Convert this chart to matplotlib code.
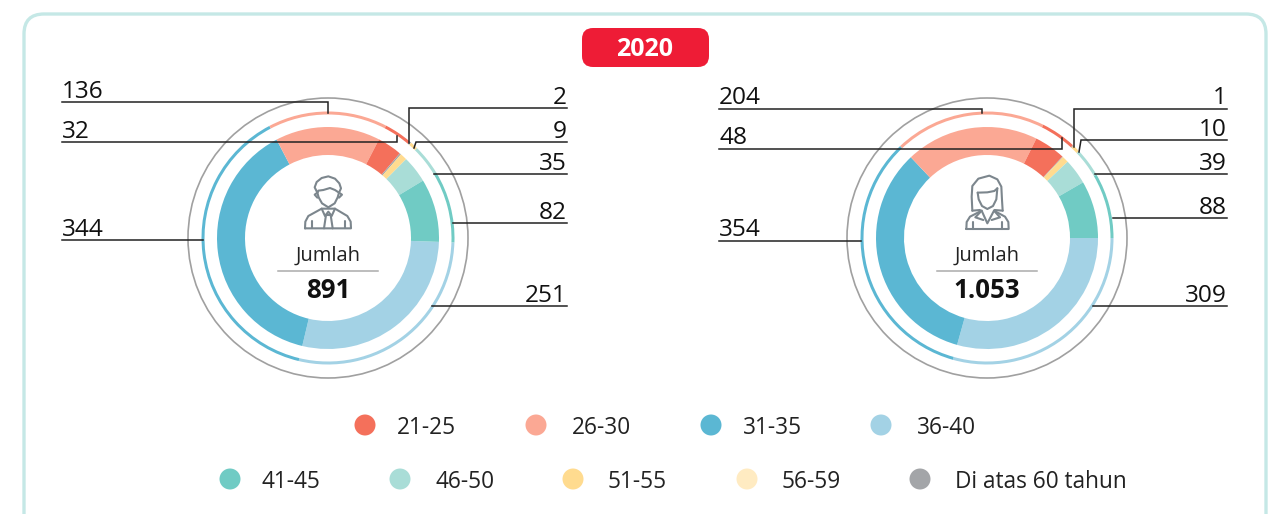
import numpy as np
import matplotlib
matplotlib.use('Agg')
import matplotlib.pyplot as plt
from matplotlib.patches import FancyBboxPatch, Circle

W, H = 1280, 514

# data
pie_labels = ['36-40', '31-35', '26-30', '21-25', 'Di atas 60 tahun', '51-55', '46-50', '41-45']
male = [251, 344, 136, 32, 2, 9, 35, 82]
female = [309, 354, 204, 48, 1, 10, 39, 88]
total_male = '891'
total_female = '1.053'
year = '2020'
row1 = ['21-25', '26-30', '31-35', '36-40']
row2 = ['41-45', '46-50', '51-55', '56-59', 'Di atas 60 tahun']

colors = {'21-25': '#F4705B', '26-30': '#FBA894', '31-35': '#5BB7D3', '36-40': '#A3D2E5',
          '41-45': '#70CBC4', '46-50': '#A9DDD7', '51-55': '#FFDB8F', '56-59': '#FFEBC2',
          'Di atas 60 tahun': '#A3A5A8'}

plt.rcParams['font.family'] = ['Open Sans', 'DejaVu Sans']
fig = plt.figure(figsize=(W / 100, H / 100), dpi=100)
ax = fig.add_axes([0, 0, 1, 1])


def py(y):
    # picture rows to axes y
    return H - y


def draw_donut(cx, values, start):
    c = (cx, py(238))
    cols = [colors[k] for k in pie_labels]
    ax.pie(values, colors=cols, startangle=start, counterclock=False, center=c, radius=111,
           wedgeprops=dict(width=28, linewidth=0), frame=True)
    ax.pie(values, colors=cols, startangle=start, counterclock=False, center=c, radius=126.5,
           wedgeprops=dict(width=3, linewidth=0), frame=True)
    ax.add_patch(Circle(c, 140, fill=False, ec='#A0A0A0', lw=1.2))


def leader(points):
    xs = [p[0] for p in points]
    ys = [py(p[1]) for p in points]
    ax.plot(xs, ys, color='#222222', lw=1.1, solid_joinstyle='miter', zorder=5)


def num(x, y, s, ha):
    ax.text(x, py(y), s, ha=ha, va='baseline', fontsize=17.6, color='#111111', zorder=6)


draw_donut(328, male, -2)
draw_donut(987, female, 0)

# leader lines, left chart
leader([(62, 102), (328, 102), (328, 113)])
leader([(62, 142), (397, 142), (397, 136)])
leader([(567, 108), (409, 108), (409, 143)])
leader([(567, 142), (416, 142), (414, 148)])
leader([(567, 173.5), (434, 173.5)])
leader([(567, 223), (453, 223)])
leader([(567, 306), (432, 306)])
leader([(62, 240), (203, 240)])
num(62, 98, str(male[2]), 'left')
num(62, 138, str(male[3]), 'left')
num(567, 103.5, str(male[4]), 'right')
num(567, 138, str(male[5]), 'right')
num(567, 169.5, str(male[6]), 'right')
num(567, 219, str(male[7]), 'right')
num(567, 302, str(male[0]), 'right')
num(62, 236.5, str(male[1]), 'left')

# leader lines, right chart
leader([(719, 108.5), (982, 108.5), (982, 113)])
leader([(719, 148.5), (1062, 148.5), (1062, 138)])
leader([(1227, 108.5), (1074, 108.5), (1074, 147)])
leader([(1227, 140), (1081, 140), (1079, 152)])
leader([(1227, 174), (1095, 174)])
leader([(1227, 218), (1113, 218)])
leader([(1227, 306), (1093, 306)])
leader([(719, 240.5), (861, 240.5)])
num(719, 103.5, str(female[2]), 'left')
num(719, 143.5, str(female[3]), 'left')
num(1227, 104, str(female[4]), 'right')
num(1227, 136, str(female[5]), 'right')
num(1227, 170, str(female[6]), 'right')
num(1227, 214, str(female[7]), 'right')
num(1227, 302, str(female[0]), 'right')
num(719, 236.5, str(female[1]), 'left')

# centre text
for cx, tot in [(328, total_male), (987, total_female)]:
    ax.text(cx, py(255.5), 'Jumlah', ha='center', va='center', fontsize=14.5, color='#222222')
    ax.plot([cx - 50, cx + 50], [py(271), py(271)], color='#ABABAB', lw=1.1)
    ax.text(cx, py(290), tot, ha='center', va='center', fontsize=18.6, fontweight='bold', color='#111111')


# icons (zoom crop coordinates)
def icon(paths, ox, oy):
    for p in paths:
        p = np.array(p, dtype=float)
        ax.plot(ox + p[:, 0] / 3, py(oy + p[:, 1] / 3), color='#7C868D', lw=1.5,
                solid_joinstyle='round', solid_capstyle='round')


man = [
    [(232, 98), (224, 82), (230, 66), (245, 54), (265, 49), (285, 56), (298, 70), (303, 85), (297, 98)],
    [(232, 98), (235, 92), (250, 90), (270, 84), (285, 90), (297, 98)],
    [(232, 98), (236, 112), (246, 130), (265, 142), (284, 130), (293, 112), (297, 98)],
    [(232, 98), (224, 104), (232, 113)],
    [(297, 98), (306, 104), (297, 113)],
    [(195, 205), (196, 185), (205, 168), (245, 146), (285, 146), (322, 168), (332, 185), (333, 205), (195, 205)],
    [(245, 146), (255, 168), (265, 155), (275, 168), (285, 146)],
    [(258, 165), (252, 205)],
    [(272, 165), (278, 205)],
    [(258, 165), (272, 165)],
    [(215, 182), (215, 205)],
    [(314, 182), (314, 205)],
]
woman = [
    [(217, 152), (215, 110), (217, 78), (235, 56), (268, 47), (292, 58), (304, 80), (306, 120), (308, 152)],
    [(217, 152), (240, 150)],
    [(308, 152), (284, 150)],
    [(233, 98), (262, 97), (283, 93), (292, 85)],
    [(233, 98), (236, 118), (246, 138), (262, 147), (279, 138), (289, 118), (292, 85)],
    [(199, 207), (200, 186), (210, 170), (245, 152), (262, 190), (282, 152), (315, 170), (325, 186), (326, 207), (199, 207)],
    [(245, 152), (226, 172), (250, 180)],
    [(282, 152), (300, 172), (275, 180)],
    [(220, 185), (220, 207)],
    [(305, 185), (305, 207)],
]
icon(man, 240, 160)
icon(woman, 900, 160)

# legend
row1_x = [(365, 397), (536, 572), (711, 743), (881, 917)]
row2_x = [(230, 262), (400, 436), (573, 608), (747, 782), (920, 955)]
for names, xs, y in [(row1, row1_x, 425), (row2, row2_x, 479)]:
    for name, (mx, tx) in zip(names, xs):
        ax.add_patch(Circle((mx, py(y)), 10.5, fc=colors[name], ec='none'))
        ax.text(tx, py(y + 2.5), name, ha='left', va='center', fontsize=16.3, color='#222222')

# frame and year badge
ax.add_patch(FancyBboxPatch((24, py(560)), 1242, 546, boxstyle='round,pad=0,rounding_size=20',
                            fc='none', ec='#C5E8E6', lw=2.4, zorder=0))
ax.add_patch(FancyBboxPatch((582, py(67)), 127, 39, boxstyle='round,pad=0,rounding_size=11',
                            fc='#EE1C36', ec='none', zorder=2))
ax.text(645, py(50), year, ha='center', va='center', fontsize=18, fontweight='bold', color='white', zorder=3)

ax.set_xlim(0, W)
ax.set_ylim(0, H)
ax.set_aspect('auto')
ax.axis('off')
fig.savefig('out.png', dpi=100, facecolor='white')
